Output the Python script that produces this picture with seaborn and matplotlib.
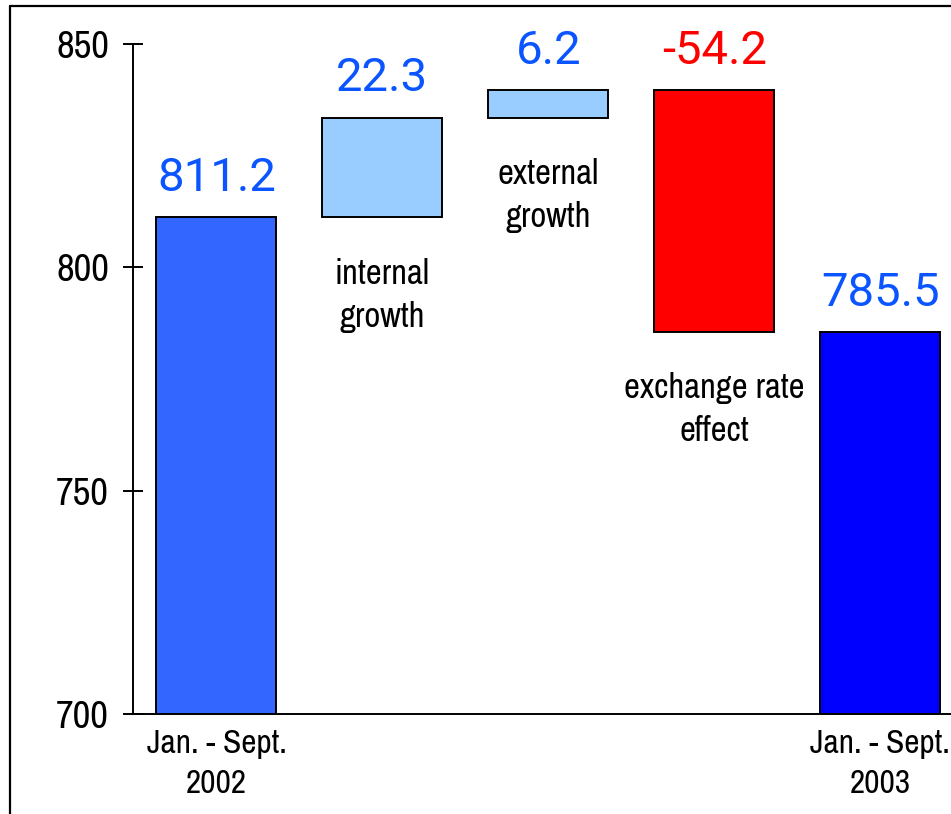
import matplotlib
matplotlib.use("Agg")
import matplotlib.pyplot as plt
from matplotlib.lines import Line2D
import seaborn as sns
import pandas as pd

# Sales bridge, Jan. - Sept. 2002 -> Jan. - Sept. 2003
steps = ["start", "internal", "external", "fx", "end"]
changes = [811.2, 22.3, 6.2, -54.2, 785.5]
bottoms = [700.0, 811.2, 833.5, 839.7, 700.0]
tops = [811.2, 833.5, 839.7, 785.5, 785.5]
value_text = ["811.2", "22.3", "6.2", "-54.2", "785.5"]
tick_text = ["Jan. - Sept.\n2002", "", "", "", "Jan. - Sept.\n2003"]
step_text = [None, "internal\ngrowth", "external\ngrowth", "exchange rate\neffect", None]
bar_colors = ["#3366FF", "#99CCFF", "#99CCFF", "#FF0000", "#0000FF"]
value_colors = ["#0A55FF", "#0A55FF", "#0A55FF", "#FF0000", "#0A55FF"]
y_ticks = [700, 750, 800, 850]

sns.set_theme(style="white")
narrow = ["Archivo Narrow", "PT Sans Narrow", "Liberation Sans", "DejaVu Sans"]
plt.rcParams["font.family"] = narrow
plt.rcParams["text.color"] = "black"
plt.rcParams["xtick.color"] = "black"
plt.rcParams["ytick.color"] = "black"

df = pd.DataFrame({
    "step": steps,
    "height": [abs(t - b) for t, b in zip(tops, bottoms)],
    "base": [min(t, b) for t, b in zip(tops, bottoms)],
})

fig = plt.figure(figsize=(9.51, 8.14), dpi=100)
ax = fig.add_axes([133 / 951, 1 - 714 / 814, 1 - 133 / 951, (714 - 44) / 814])

sns.barplot(data=df, x="step", y="height", order=steps, bottom=df["base"].values,
            color="#3366FF", width=0.723, errorbar=None, edgecolor="black",
            linewidth=1.4, ax=ax)
for patch, c in zip(ax.patches, bar_colors):
    patch.set_facecolor(c)

ax.set_ylim(700, 850)
ax.set_xlim(-0.503, 4.427)
ax.set_yticks(y_ticks)
ax.set_xticks(range(len(steps)))
ax.set_xticklabels(tick_text, fontsize=24, linespacing=1.4)
ax.set_xlabel("")
ax.set_ylabel("")

ax.tick_params(axis="y", direction="inout", length=14.4, width=1.4,
               labelsize=28, pad=10, colors="black", left=True)
ax.tick_params(axis="x", length=0, pad=11, colors="black")
for side in ["top", "right"]:
    ax.spines[side].set_visible(False)
for side in ["left", "bottom"]:
    ax.spines[side].set_color("black")
    ax.spines[side].set_linewidth(1.4)

# value labels above each bar
for i, (t, b) in enumerate(zip(tops, bottoms)):
    upper = max(t, b)
    ax.annotate(value_text[i], xy=(i, upper), xytext=(0, 19), textcoords="offset points",
                ha="center", va="baseline", fontsize=34, color=value_colors[i],
                family=["Roboto", "DejaVu Sans"])

# descriptions below the floating bars
for i, txt in enumerate(step_text):
    if txt is None:
        continue
    lower = min(tops[i], bottoms[i])
    ax.annotate(txt, xy=(i, lower), xytext=(0, -29), textcoords="offset points",
                ha="center", va="top", fontsize=25, linespacing=1.42, color="black")

# outer frame
fig.add_artist(Line2D([10 / 951, 10 / 951], [0, 1 - 6 / 814], transform=fig.transFigure,
                      color="black", linewidth=1.6))
fig.add_artist(Line2D([10 / 951, 1], [1 - 6 / 814, 1 - 6 / 814], transform=fig.transFigure,
                      color="black", linewidth=1.6))

fig.savefig("out.png", dpi=100)
